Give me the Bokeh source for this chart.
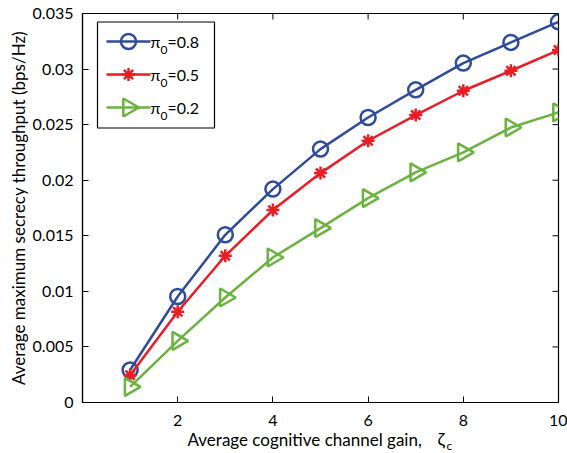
from bokeh.plotting import figure
from bokeh.models import FixedTicker, Range1d
from bokeh.layouts import column
from bokeh.core.properties import value
from bokeh.embed import file_html
from bokeh.resources import INLINE
import math

x = [1, 2, 3, 4, 5, 6, 7, 8, 9, 10]
pi08 = [0.00292, 0.00954, 0.01509, 0.0192, 0.0228, 0.02564, 0.02813, 0.03054, 0.0324, 0.03425]
pi05 = [0.00246, 0.00816, 0.0132, 0.01731, 0.02064, 0.02355, 0.02586, 0.02805, 0.02985, 0.03171]
pi02 = [0.00141, 0.00555, 0.00945, 0.01305, 0.01569, 0.01839, 0.0207, 0.0225, 0.02474, 0.0261]
legend_values = ["=0.8", "=0.5", "=0.2"]
xticks = [2, 4, 6, 8, 10]
yticks = [0, 0.005, 0.01, 0.015, 0.02, 0.025, 0.03, 0.035]
ytick_labels = ["0", "0.005", "0.01", "0.015", "0.02", "0.025", "0.03", "0.035"]
xlabel_main = "Average cognitive channel gain,"
xlabel_sym = "ζ"
xlabel_sub = "c"
ylabel = "Average maximum secrecy throughput (bps/Hz)"

FONT = "Lato"
BLUE = "#2E4B9C"
RED = "#EC1C24"
GREEN = "#6BB33F"

W, H = 567, 453
FL, FR, FT, FB = 82, 558, 13, 402
XMIN, XMAX, YMIN, YMAX = 0, 10, 0, 0.035


def dx(px):
    return XMIN + (px - FL) * (XMAX - XMIN) / (FR - FL)


def dy(py):
    return YMIN + (FB - py) * (YMAX - YMIN) / (FB - FT)


p = figure(width=W, height=H, output_backend="svg", toolbar_location=None,
           x_range=Range1d(XMIN, XMAX), y_range=Range1d(YMIN, YMAX),
           min_border_left=FL, min_border_right=W - FR, min_border_top=FT,
           min_border_bottom=H - FB)
p.xgrid.visible = False
p.ygrid.visible = False
p.outline_line_color = "black"
p.outline_line_width = 1.2
p.background_fill_color = "white"
p.border_fill_color = "white"


def style_axis(ax):
    ax.axis_line_color = "black"
    ax.axis_line_width = 1.2
    ax.major_tick_in = 6
    ax.major_tick_out = 0
    ax.minor_tick_line_color = None
    ax.major_tick_line_color = "black"
    ax.major_label_text_font = FONT
    ax.major_label_text_font_size = "16px"
    ax.major_label_text_color = "black"
    ax.axis_label_text_font = FONT
    ax.axis_label_text_font_style = "normal"
    ax.axis_label_text_color = "black"


xa = p.xaxis[0]
xa.ticker = FixedTicker(ticks=xticks)
style_axis(xa)
xa.major_label_standoff = 12

ya = p.yaxis[0]
ya.ticker = FixedTicker(ticks=yticks)
ya.major_label_overrides = {t: s for t, s in zip(yticks, ytick_labels)}
style_axis(ya)
ya.major_label_standoff = 9
ya.axis_label = ylabel
ya.axis_label_text_font_size = "17px"
ya.axis_label_standoff = 1

# mirrored inward ticks on top and right edges
tick_len_x = dx(FL + 6) - dx(FL)
tick_len_y = dy(FB - 6) - dy(FB)
n = len(xticks)
m = len(yticks)
p.segment(x0=xticks, y0=[YMAX] * n, x1=xticks, y1=[YMAX - tick_len_y] * n,
          line_color="black", line_width=1)
p.segment(x0=[XMAX] * m, y0=yticks, x1=[XMAX - tick_len_x] * m, y1=yticks,
          line_color="black", line_width=1)

series = [(pi08, BLUE, "circle", 15, 0.0), (pi05, RED, "asterisk", 13, 0.0),
          (pi02, GREEN, "triangle", 18, -math.pi / 2)]
for ys, col, mk, sz, ang in series:
    p.line(x, ys, line_color=col, line_width=2.5)
    p.scatter(x, ys, marker=mk, size=sz, angle=ang, fill_color=None, line_color=col, line_width=2.5)

# legend drawn as an inset box
p.quad(left=[dx(97)], right=[dx(214)], top=[dy(21.5)], bottom=[dy(127.5)],
       fill_color="white", line_color="black", line_width=1.2)
rows = [41, 74, 107]
for (ys, col, mk, sz, ang), ry, val in zip(series, rows, legend_values):
    p.line([dx(106), dx(150)], [dy(ry), dy(ry)], line_color=col, line_width=2.5)
    p.scatter([dx(128)], [dy(ry)], marker=mk, size=sz, angle=ang, fill_color=None,
              line_color=col, line_width=2.5)
    p.text([dx(150)], [dy(ry)], text=["π"], text_font=value(FONT), text_font_size="16px",
           text_baseline="middle", text_align="left", text_color="black")
    p.text([dx(160)], [dy(ry + 8)], text=["0"], text_font=value(FONT), text_font_size="12px",
           text_baseline="middle", text_align="left", text_color="black")
    p.text([dx(167)], [dy(ry)], text=[val], text_font=value(FONT), text_font_size="16px",
           text_baseline="middle", text_align="left", text_color="black")

# transparent overlay strip carrying the x-axis label (with its subscript)
BH = 40
b = figure(width=W, height=BH, output_backend="svg", toolbar_location=None,
           x_range=Range1d(XMIN, XMAX), y_range=Range1d(BH, 0),
           min_border_left=FL, min_border_right=W - FR, min_border_top=0, min_border_bottom=0)
b.axis.visible = False
b.grid.visible = False
b.outline_line_color = None
b.background_fill_color = None
b.border_fill_color = None
b.margin = (-BH, 0, 0, 0)

TOP = H - BH
SHIFT = -5   # measured offset of the overlay strip


def by(py):
    return py - TOP + SHIFT


b.text([dx(187)], [by(444)], text=[xlabel_main], text_font=value(FONT), text_font_size="17px",
       text_baseline="alphabetic", text_align="left", text_color="black")
b.text([dx(437)], [by(443)], text=[xlabel_sym], text_font=value(FONT), text_font_size="18px",
       text_baseline="alphabetic", text_align="left", text_color="black")
b.text([dx(446)], [by(450)], text=[xlabel_sub], text_font=value(FONT), text_font_size="12px",
       text_baseline="alphabetic", text_align="left", text_color="black")

layout = column(p, b, spacing=0)
open("out.html", "w").write(file_html(layout, INLINE))
